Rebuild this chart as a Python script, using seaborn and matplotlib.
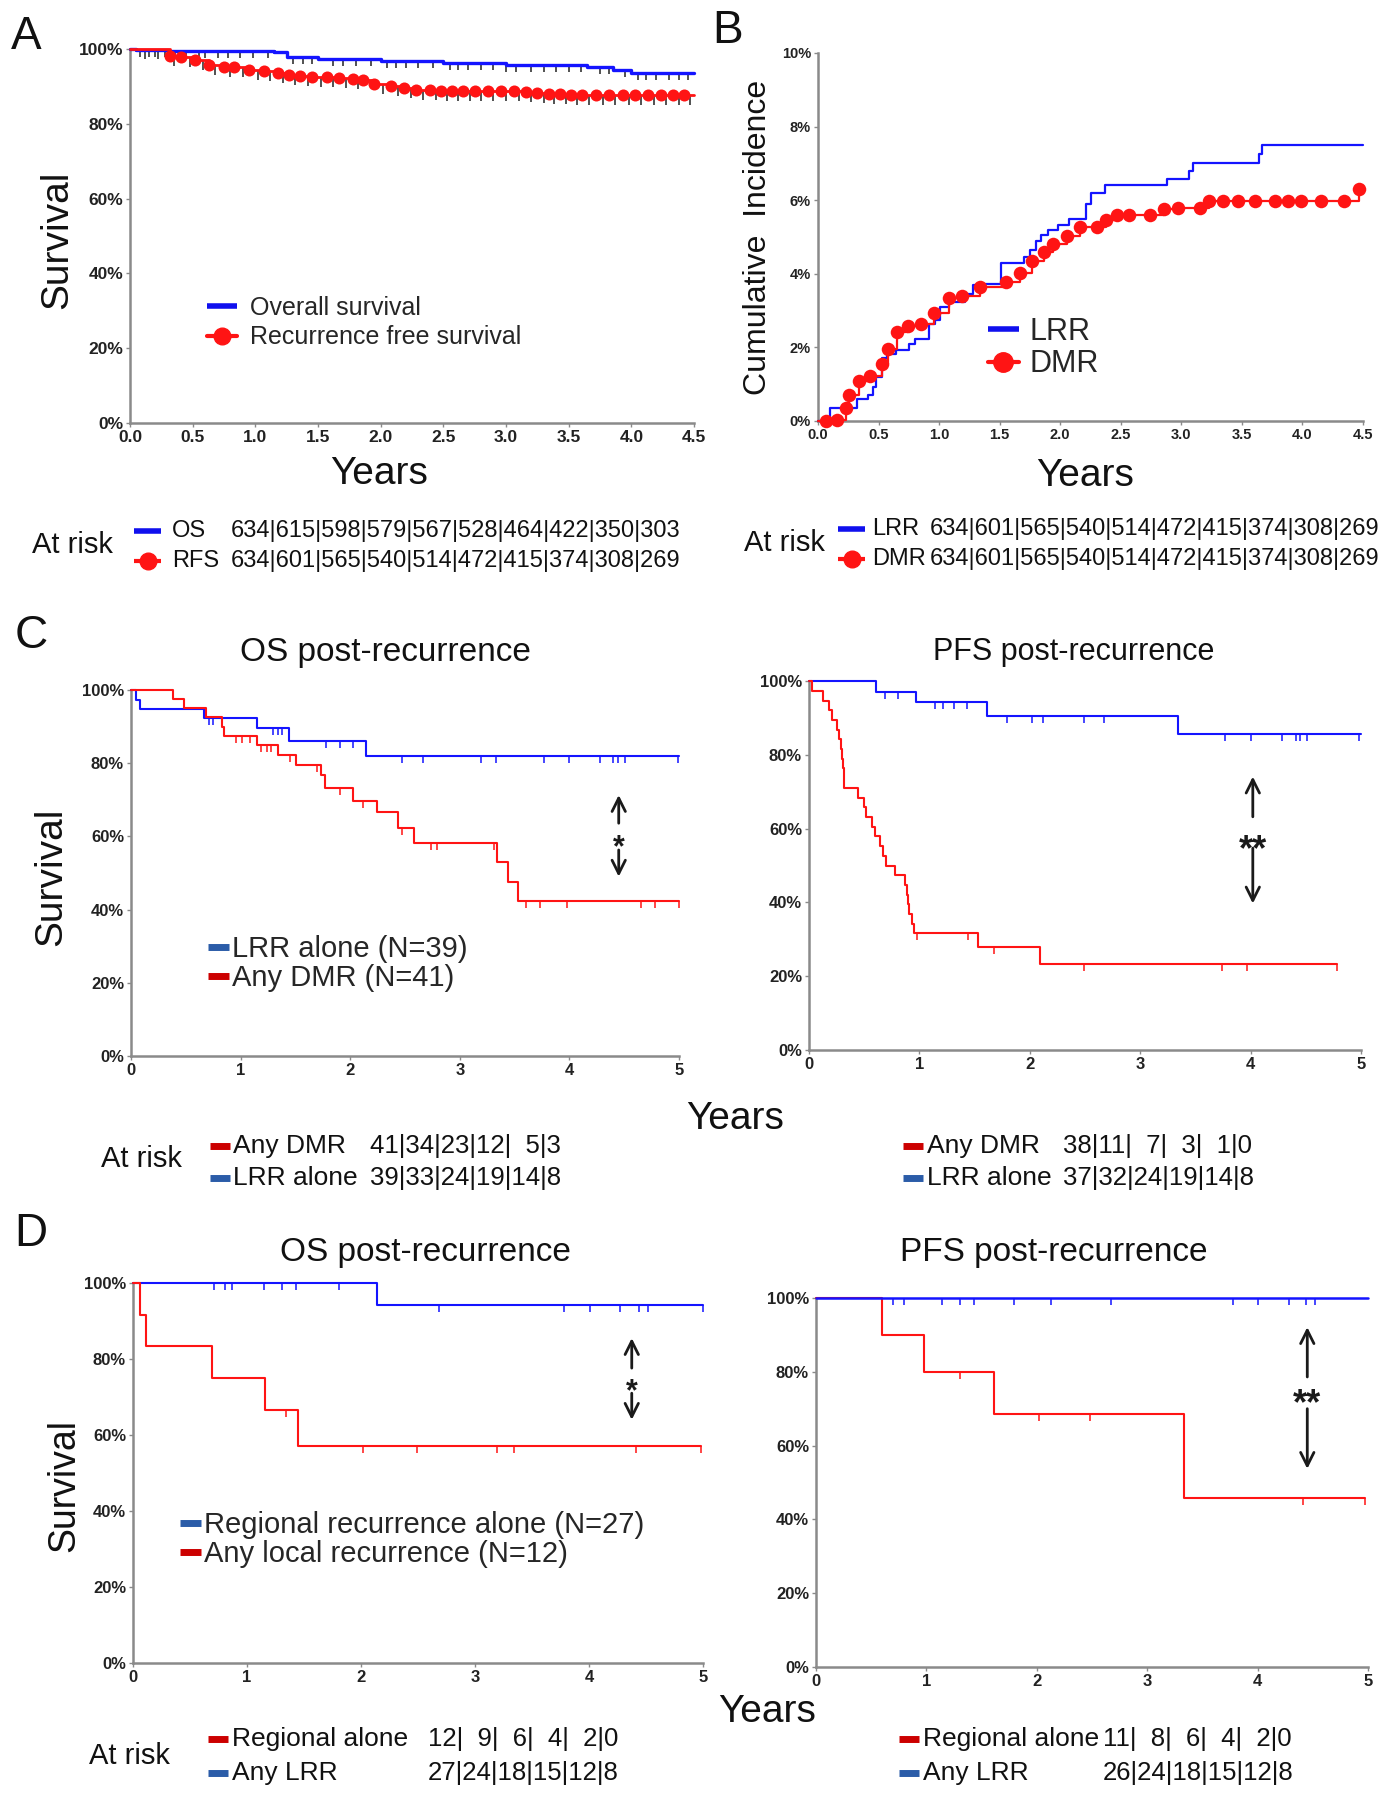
import matplotlib
matplotlib.use("Agg")
import matplotlib.pyplot as plt
from matplotlib.lines import Line2D
from matplotlib.ticker import FuncFormatter
from matplotlib.transforms import offset_copy
import numpy as np
import seaborn as sns

W, H = 1391, 1800

# ---------------- data ----------------
# Panel A: overall survival / recurrence free survival (%)
os_t = [0, 0.05, 0.3, 1.15, 1.25, 1.5, 2.0, 2.5, 3.0, 3.65, 3.85, 4.0, 4.5]
os_v = [100, 99.8, 99.5, 99.1, 97.9, 97.2, 96.7, 96.2, 95.8, 95.3, 94.5, 93.6, 93.6]
os_cens = [0.08, 0.15, 0.2, 0.28, 0.36, 0.45, 0.55, 0.6, 0.7, 0.78, 0.88, 0.98, 1.1,
           1.3, 1.38, 1.45, 1.62, 1.7, 1.8, 1.92, 2.05, 2.12, 2.2, 2.3, 2.42, 2.55,
           2.62, 2.7, 2.8, 2.9, 3.0, 3.08, 3.2, 3.3, 3.4, 3.5, 3.6, 3.75, 3.82, 3.95,
           4.05, 4.12, 4.2, 4.3, 4.38, 4.45]
rfs_t = [0.32, 0.41, 0.52, 0.63, 0.75, 0.83, 0.95, 1.07, 1.18, 1.27, 1.36, 1.45, 1.57,
         1.67, 1.78, 1.86, 1.95, 2.08, 2.19, 2.28, 2.39, 2.48, 2.57, 2.66, 2.75, 2.86,
         2.96, 3.06, 3.16, 3.25, 3.34, 3.43, 3.52, 3.61, 3.72, 3.82, 3.93, 4.03, 4.13,
         4.24, 4.33, 4.42]
rfs_v = [98.0, 97.9, 97.1, 95.6, 95.2, 95.2, 94.5, 94.0, 93.6, 93.1, 92.7, 92.5, 92.4,
         92.2, 92.0, 91.8, 90.7, 90.2, 89.6, 89.1, 89.1, 88.9, 88.7, 88.7, 88.7, 88.7,
         88.7, 88.7, 88.4, 88.2, 88.0, 87.9, 87.8, 87.8, 87.8, 87.8, 87.8, 87.8, 87.8,
         87.8, 87.6, 87.6]
rfs_cens = [0.12, 0.22, 0.35, 0.48, 0.58, 0.68, 0.8, 0.9, 1.02, 1.12, 1.22, 1.32, 1.42,
            1.52, 1.62, 1.72, 1.82, 2.02, 2.14, 2.24, 2.34, 2.44, 2.53, 2.62, 2.71,
            2.8, 2.9, 3.0, 3.1, 3.2, 3.3, 3.38, 3.48, 3.57, 3.66, 3.77, 3.87, 3.98,
            4.08, 4.18, 4.28, 4.38, 4.47]

# Panel B: cumulative incidence (%)
lrr_t = [0, 0.095, 0.32, 0.41, 0.45, 0.48, 0.53, 0.57, 0.64, 0.75, 0.8, 0.92, 0.97,
         1.01, 1.08, 1.21, 1.28, 1.31, 1.51, 1.7, 1.75, 1.8, 1.84, 1.9, 1.98, 2.07,
         2.21, 2.25, 2.37, 2.88, 3.06, 3.1, 3.64, 3.67, 4.5]
lrr_v = [0, 0.34, 0.61, 0.7, 0.92, 1.2, 1.7, 1.83, 1.92, 2.1, 2.24, 2.64, 2.74,
         3.1, 3.23, 3.46, 3.69, 3.73, 4.28, 4.46, 4.64, 4.9, 5.05, 5.18, 5.32, 5.5,
         5.9, 6.2, 6.4, 6.58, 6.8, 7.0, 7.26, 7.5, 7.5]
dmr_t = [0.07, 0.155, 0.23, 0.26, 0.34, 0.43, 0.53, 0.58, 0.65, 0.74, 0.85, 0.96, 1.08,
         1.19, 1.34, 1.55, 1.67, 1.77, 1.87, 1.94, 2.06, 2.16, 2.3, 2.38, 2.47, 2.57,
         2.74, 2.86, 2.97, 3.15, 3.23, 3.34, 3.47, 3.61, 3.77, 3.88, 3.99, 4.15, 4.34,
         4.47]
dmr_v = [0, 0.04, 0.36, 0.72, 1.08, 1.21, 1.54, 1.96, 2.42, 2.57, 2.64, 2.93, 3.34,
         3.39, 3.64, 3.78, 4.02, 4.35, 4.58, 4.82, 5.04, 5.27, 5.27, 5.47, 5.59, 5.59,
         5.6, 5.77, 5.79, 5.8, 5.97, 5.97, 5.97, 5.97, 5.97, 5.97, 5.97, 5.97, 5.97,
         6.3]

# Panel C left: OS post-recurrence
cl_blue_t = [0, 0.05, 0.08, 0.67, 1.15, 1.44, 2.14, 5.0]
cl_blue_v = [100, 97.4, 94.9, 92.3, 89.6, 86.0, 82.0, 82.0]
cl_blue_cens = [0.71, 0.75, 0.83, 1.30, 1.34, 1.38, 1.78, 1.91, 2.03, 2.47, 2.66, 3.19,
                3.33, 3.77, 4.0, 4.28, 4.4, 4.44, 4.51, 4.99]
cl_red_t = [0, 0.38, 0.48, 0.68, 0.83, 0.85, 1.15, 1.34, 1.51, 1.73, 1.77, 2.03, 2.24,
            2.44, 2.58, 3.34, 3.44, 3.53, 5.0]
cl_red_v = [100, 97.5, 95.1, 92.6, 90.0, 87.5, 85.0, 82.3, 79.4, 76.7, 73.1, 69.8, 66.6,
            62.4, 58.2, 52.9, 47.6, 42.3, 42.3]
cl_red_cens = [0.96, 1.01, 1.09, 1.19, 1.24, 1.28, 1.45, 1.7, 1.91, 2.12, 2.47, 2.74,
               2.79, 3.31, 3.6, 3.73, 3.98, 4.65, 4.78, 5.0]

# Panel C right: PFS post-recurrence
cr_blue_t = [0, 0.61, 0.97, 1.61, 3.34, 5.0]
cr_blue_v = [100, 97.1, 94.2, 90.5, 85.6, 85.6]
cr_blue_cens = [0.69, 0.81, 1.14, 1.21, 1.31, 1.43, 1.79, 2.02, 2.12, 2.49, 2.67, 3.77,
                4.0, 4.28, 4.41, 4.45, 4.51, 4.98]
cr_red_t = [0, 0.03, 0.13, 0.18, 0.21, 0.25, 0.27, 0.29, 0.3, 0.31, 0.32, 0.44, 0.5,
            0.52, 0.57, 0.6, 0.64, 0.67, 0.7, 0.78, 0.87, 0.89, 0.9, 0.91, 0.93, 0.95,
            1.53, 2.09, 4.78]
cr_red_v = [100, 97.4, 94.7, 92.1, 89.5, 86.8, 84.2, 81.6, 78.9, 76.3, 71.1, 68.4, 65.8,
            63.2, 60.5, 57.9, 55.3, 52.6, 50.0, 47.4, 44.7, 42.1, 39.5, 36.8, 34.2, 31.6,
            27.9, 23.3, 23.3]
cr_red_cens = [0.98, 1.44, 1.68, 2.49, 3.74, 3.97, 4.78]

# Panel D left: OS post-recurrence
dl_blue_t = [0, 2.14, 5.0]
dl_blue_v = [100, 94.1, 94.1]
dl_blue_cens = [0.71, 0.81, 0.87, 1.15, 1.31, 1.43, 1.81, 2.68, 3.78, 4.01, 4.27, 4.44,
                4.52, 5.0]
dl_red_t = [0, 0.06, 0.11, 0.69, 1.16, 1.45, 4.98]
dl_red_v = [100, 91.7, 83.3, 75.0, 66.7, 57.1, 57.1]
dl_red_cens = [1.34, 2.02, 2.49, 3.19, 3.34, 4.41, 4.98]

# Panel D right: PFS post-recurrence
dr_blue_t = [0, 5.0]
dr_blue_v = [100, 100]
dr_blue_cens = [0.70, 0.80, 1.14, 1.30, 1.43, 1.79, 2.13, 2.67, 3.78, 4.0, 4.28, 4.44, 4.52]
dr_red_t = [0, 0.6, 0.98, 1.61, 3.33, 4.97]
dr_red_v = [100, 90, 80, 68.6, 45.7, 45.7]
dr_red_cens = [1.30, 2.02, 2.48, 4.41, 4.97]

# numbers at risk
risk_os = [634, 615, 598, 579, 567, 528, 464, 422, 350, 303]
risk_rfs = [634, 601, 565, 540, 514, 472, 415, 374, 308, 269]
risk_lrr = [634, 601, 565, 540, 514, 472, 415, 374, 308, 269]
risk_dmr = [634, 601, 565, 540, 514, 472, 415, 374, 308, 269]
risk_c_os_dmr = [41, 34, 23, 12, 5, 3]
risk_c_os_lrr = [39, 33, 24, 19, 14, 8]
risk_c_pfs_dmr = [38, 11, 7, 3, 1, 0]
risk_c_pfs_lrr = [37, 32, 24, 19, 14, 8]
risk_d_os_reg = [12, 9, 6, 4, 2, 0]
risk_d_os_lrr = [27, 24, 18, 15, 12, 8]
risk_d_pfs_reg = [11, 8, 6, 4, 2, 0]
risk_d_pfs_lrr = [26, 24, 18, 15, 12, 8]

BLUE = "#1414ff"
RED = "#ff1414"
LEG_BLUE = "#2b5ca8"
LEG_RED = "#cc0000"
SPINE = "#8a8a8a"
TXT = "#111111"

sns.set_style("ticks")
plt.rcParams["font.family"] = ["Liberation Sans", "DejaVu Sans"]

fig = plt.figure(figsize=(W / 100, H / 100), dpi=100)


def px_axes(l, t, r, b):
    return fig.add_axes([l / W, 1 - b / H, (r - l) / W, (b - t) / H])


def ftext(x, y, s, **kw):
    kw.setdefault("color", TXT)
    return fig.text(x / W, 1 - y / H, s, **kw)


def fline(x1, x2, y, **kw):
    fig.add_artist(Line2D([x1 / W, x2 / W], [1 - y / H, 1 - y / H],
                          transform=fig.transFigure, solid_capstyle="butt", **kw))


def step(ax, t, v, color, lw=1.5, z=3):
    sns.lineplot(x=t, y=v, drawstyle="steps-post", color=color, lw=lw,
                 estimator=None, sort=False, ax=ax, zorder=z, clip_on=False)


def censor(ax, t, v, ct, color, ms=5):
    idx = np.searchsorted(np.asarray(t), np.asarray(ct), side="right") - 1
    cv = np.asarray(v)[np.clip(idx, 0, len(v) - 1)]
    ax.plot(ct, cv, ls="none", marker=3, ms=ms, mew=1.1, color=color,
            zorder=2, clip_on=False)


def style(ax, xmax, ymax, xticks, xfmt, yticks, size=12):
    ax.set_xlim(0, xmax)
    ax.set_ylim(0, ymax)
    sns.despine(ax=ax)
    for s in ["left", "bottom"]:
        ax.spines[s].set_color(SPINE)
        ax.spines[s].set_linewidth(1.8)
    ax.set_xticks(xticks)
    ax.set_yticks(yticks)
    ax.xaxis.set_major_formatter(FuncFormatter(lambda v, p: xfmt.format(v)))
    ax.yaxis.set_major_formatter(FuncFormatter(lambda v, p: f"{v:.0f}%"))
    ax.tick_params(length=3, width=1, colors=SPINE, labelcolor="#222222",
                   labelsize=size, pad=2)
    for lab in ax.get_xticklabels() + ax.get_yticklabels():
        lab.set_fontweight("bold")
    ax.set_xlabel("")
    ax.set_ylabel("")
    ax.patch.set_alpha(0)


def sig_arrow(ax, x, top, gap_top, star_y, gap_bot, bottom, label, fs):
    kw = dict(arrowstyle="->", lw=2, color="#1a1a1a", mutation_scale=24,
              shrinkA=0, shrinkB=0)
    ax.annotate("", xy=(x, top), xytext=(x, gap_top), arrowprops=kw)
    ax.annotate("", xy=(x, bottom), xytext=(x, gap_bot), arrowprops=kw)
    tr = offset_copy(ax.transData, fig=fig, y=-0.62 * fs, units="points")
    ax.text(x, star_y, label, transform=tr, ha="center", va="baseline",
            fontsize=fs, fontweight="bold", color="#1a1a1a")


def risk_str(vals):
    parts = [(f"  {n}" if n < 10 else f"{n}") for n in vals[:-1]]
    return "|".join(parts + [str(vals[-1])])


# ---------------- Panel A ----------------
axA = px_axes(130, 49, 694, 423)
censor(axA, os_t, os_v, os_cens, "#222222", ms=5)
step(axA, os_t, os_v, BLUE, lw=2.4)
rfs_line_t = [0] + rfs_t + [4.5]
rfs_line_v = [100] + rfs_v + [rfs_v[-1]]
censor(axA, rfs_line_t, rfs_line_v, rfs_cens, "#222222", ms=7)
step(axA, rfs_line_t, rfs_line_v, RED, lw=2)
sns.scatterplot(x=rfs_t, y=rfs_v, color=RED, s=75, linewidth=0, ax=axA, zorder=4)
style(axA, 4.5, 100, np.arange(0, 4.51, 0.5), "{:.1f}", np.arange(0, 101, 20), size=12.5)
axA.legend([Line2D([], [], color="#1010ee", lw=4, solid_capstyle="butt"),
            Line2D([], [], color=RED, lw=3, marker="o", ms=12)],
           ["Overall survival", "Recurrence free survival"],
           loc="upper left", bbox_to_anchor=(207 / W, 1 - 296 / H),
           bbox_transform=fig.transFigure, frameon=False, fontsize=18,
           handlelength=1.2, handletextpad=0.5, labelspacing=0.22,
           borderpad=0, borderaxespad=0)

# ---------------- Panel B ----------------
axB = px_axes(818, 53, 1363, 421)
step(axB, lrr_t, lrr_v, BLUE, lw=1.6)
dmr_line_t = [0] + dmr_t + [4.5]
dmr_line_v = [0] + dmr_v + [dmr_v[-1]]
step(axB, dmr_line_t, dmr_line_v, RED, lw=1.6)
sns.scatterplot(x=dmr_t, y=dmr_v, color=RED, s=95, linewidth=0, ax=axB, zorder=4,
                clip_on=False)
style(axB, 4.5, 10, np.arange(0, 4.51, 0.5), "{:.1f}", np.arange(0, 10.1, 2), size=10.5)
axB.legend([Line2D([], [], color="#1010ee", lw=4, solid_capstyle="butt"),
            Line2D([], [], color=RED, lw=3, marker="o", ms=14)],
           ["LRR", "DMR"],
           loc="upper left", bbox_to_anchor=(988 / W, 1 - 317 / H),
           bbox_transform=fig.transFigure, frameon=False, fontsize=22,
           handlelength=1.0, handletextpad=0.35, labelspacing=0.08,
           borderpad=0, borderaxespad=0)

# ---------------- Panel C ----------------
axCL = px_axes(131, 690, 679, 1056)
censor(axCL, cl_blue_t, cl_blue_v, cl_blue_cens, BLUE)
censor(axCL, cl_red_t, cl_red_v, cl_red_cens, RED)
step(axCL, cl_blue_t, cl_blue_v, BLUE)
step(axCL, cl_red_t, cl_red_v, RED)
style(axCL, 5, 100, range(6), "{:.0f}", np.arange(0, 101, 20))
sig_arrow(axCL, 4.45, 71.3, 63.6, 59.7, 56.3, 49.0, "*", 22)
axCL.legend([Line2D([], [], color=LEG_BLUE, lw=5, solid_capstyle="butt"),
             Line2D([], [], color=LEG_RED, lw=5, solid_capstyle="butt")],
            ["LRR alone (N=39)", "Any DMR (N=41)"],
            loc="upper left", bbox_to_anchor=(208 / W, 1 - 935 / H),
            bbox_transform=fig.transFigure, frameon=False, fontsize=21,
            handlelength=0.72, handletextpad=0.12, labelspacing=0.05,
            borderpad=0, borderaxespad=0)

axCR = px_axes(809, 681, 1361, 1050)
censor(axCR, cr_blue_t, cr_blue_v, cr_blue_cens, BLUE)
censor(axCR, cr_red_t, cr_red_v, cr_red_cens, RED)
step(axCR, cr_blue_t, cr_blue_v, BLUE)
step(axCR, cr_red_t, cr_red_v, RED)
style(axCR, 5, 100, range(6), "{:.0f}", np.arange(0, 101, 20))
sig_arrow(axCR, 4.02, 74.1, 63.2, 57.6, 54.7, 39.7, "**", 26)

# ---------------- Panel D ----------------
axDL = px_axes(133, 1283, 703, 1663)
censor(axDL, dl_blue_t, dl_blue_v, dl_blue_cens, BLUE)
censor(axDL, dl_red_t, dl_red_v, dl_red_cens, RED)
step(axDL, dl_blue_t, dl_blue_v, BLUE)
step(axDL, dl_red_t, dl_red_v, RED)
style(axDL, 5, 100, range(6), "{:.0f}", np.arange(0, 101, 20))
sig_arrow(axDL, 4.375, 85.5, 77.6, 74.1, 71.0, 64.0, "*", 22)
axDL.legend([Line2D([], [], color=LEG_BLUE, lw=5, solid_capstyle="butt"),
             Line2D([], [], color=LEG_RED, lw=5, solid_capstyle="butt")],
            ["Regional recurrence alone (N=27)", "Any local recurrence (N=12)"],
            loc="upper left", bbox_to_anchor=(180 / W, 1 - 1511 / H),
            bbox_transform=fig.transFigure, frameon=False, fontsize=21,
            handlelength=0.72, handletextpad=0.12, labelspacing=0.05,
            borderpad=0, borderaxespad=0)

axDR = px_axes(816, 1298, 1368, 1667)
censor(axDR, dr_blue_t, dr_blue_v, dr_blue_cens, BLUE)
censor(axDR, dr_red_t, dr_red_v, dr_red_cens, RED)
step(axDR, dr_red_t, dr_red_v, RED)
step(axDR, dr_blue_t, dr_blue_v, BLUE, lw=1.8)
style(axDR, 5, 100, range(6), "{:.0f}", np.arange(0, 101, 20))
sig_arrow(axDR, 4.45, 92.1, 78.6, 74.5, 70.0, 53.7, "**", 26)

# ---------------- panel letters, titles, axis labels ----------------
for x, y, s in [(26, 37, "A"), (728, 31, "B"), (31, 636, "C"), (31, 1234, "D")]:
    ftext(x, y, s, fontsize=33, ha="center", va="center")

ftext(385, 652, "OS post-recurrence", fontsize=24, ha="center", va="center")
ftext(1074, 652, "PFS post-recurrence", fontsize=22, ha="center", va="center")
ftext(425, 1252, "OS post-recurrence", fontsize=24, ha="center", va="center")
ftext(1054, 1252, "PFS post-recurrence", fontsize=24, ha="center", va="center")

ftext(57, 240, "Survival", fontsize=28, rotation=90, ha="center", va="center")
ftext(758, 237, "Cumulative  Incidence", fontsize=23, rotation=90, ha="center", va="center")
ftext(51, 877, "Survival", fontsize=28, rotation=90, ha="center", va="center")
ftext(64, 1485, "Survival", fontsize=27, rotation=90, ha="center", va="center")

ftext(379, 474, "Years", fontsize=28, ha="center", va="center")
ftext(1085, 476, "Years", fontsize=28, ha="center", va="center")
ftext(735, 1119, "Years", fontsize=28, ha="center", va="center")
ftext(767, 1712, "Years", fontsize=28, ha="center", va="center")

# ---------------- numbers at risk ----------------
# A
ftext(32, 545, "At risk", fontsize=21, ha="left", va="center")
fline(134, 161, 531, color="#1010ee", lw=4)
fline(134, 161, 561, color=RED, lw=3)
fig.add_artist(Line2D([147.5 / W], [1 - 561 / H], transform=fig.transFigure,
                      marker="o", ms=12, color=RED))
ftext(172, 531, "OS", fontsize=17, ha="left", va="center")
ftext(172, 561, "RFS", fontsize=17, ha="left", va="center")
ftext(231, 531, "|".join(map(str, risk_os)), fontsize=17, ha="left", va="center")
ftext(231, 561, "|".join(map(str, risk_rfs)), fontsize=17, ha="left", va="center")

# B
ftext(744, 543, "At risk", fontsize=21, ha="left", va="center")
fline(838, 865, 529, color="#1010ee", lw=4)
fline(838, 865, 559, color=RED, lw=3)
fig.add_artist(Line2D([851.5 / W], [1 - 559 / H], transform=fig.transFigure,
                      marker="o", ms=12, color=RED))
ftext(872, 529, "LRR", fontsize=17, ha="left", va="center")
ftext(872, 559, "DMR", fontsize=17, ha="left", va="center")
ftext(930, 529, "|".join(map(str, risk_lrr)), fontsize=17, ha="left", va="center")
ftext(930, 559, "|".join(map(str, risk_dmr)), fontsize=17, ha="left", va="center")

# C
ftext(101, 1159, "At risk", fontsize=21, ha="left", va="center")
for hx, lx, nx, top_vals, bot_vals in [(210, 233, 370, risk_c_os_dmr, risk_c_os_lrr),
                                       (903, 927, 1063, risk_c_pfs_dmr, risk_c_pfs_lrr)]:
    fline(hx, hx + 20, 1146, color=LEG_RED, lw=5)
    fline(hx, hx + 20, 1178, color=LEG_BLUE, lw=5)
    ftext(lx, 1146, "Any DMR", fontsize=19, ha="left", va="center")
    ftext(lx, 1178, "LRR alone", fontsize=19, ha="left", va="center")
    ftext(nx, 1146, risk_str(top_vals), fontsize=18.5, ha="left", va="center")
    ftext(nx, 1178, risk_str(bot_vals), fontsize=18.5, ha="left", va="center")

# D
ftext(89, 1756, "At risk", fontsize=21, ha="left", va="center")
for hx, lx, nx, top_vals, bot_vals in [(208, 232, 428, risk_d_os_reg, risk_d_os_lrr),
                                       (899, 923, 1103, risk_d_pfs_reg, risk_d_pfs_lrr)]:
    fline(hx, hx + 20, 1739, color=LEG_RED, lw=5)
    fline(hx, hx + 20, 1773, color=LEG_BLUE, lw=5)
    ftext(lx, 1739, "Regional alone", fontsize=19, ha="left", va="center")
    ftext(lx, 1773, "Any LRR", fontsize=19, ha="left", va="center")
    ftext(nx, 1739, risk_str(top_vals), fontsize=18.5, ha="left", va="center")
    ftext(nx, 1773, risk_str(bot_vals), fontsize=18.5, ha="left", va="center")

fig.savefig("out.png", dpi=100, facecolor="white")
